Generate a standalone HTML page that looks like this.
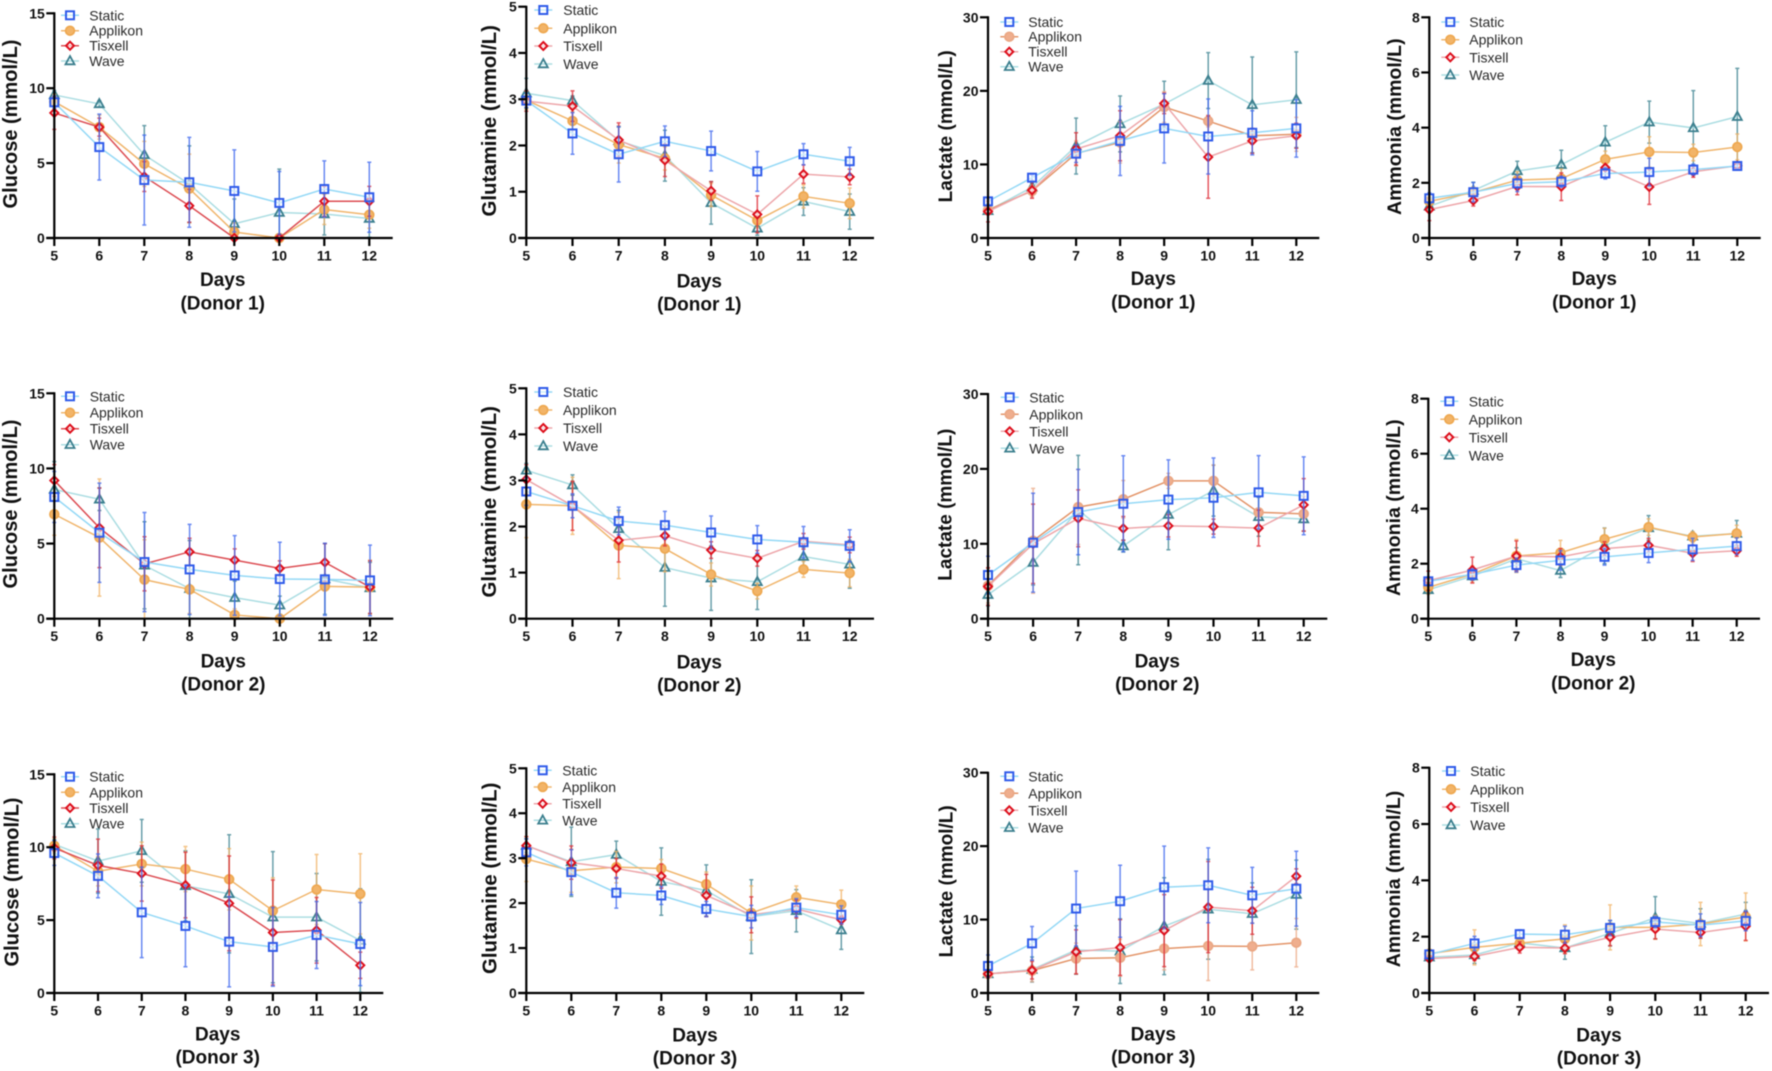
<!DOCTYPE html>
<html lang="en">
<head>
<meta charset="utf-8">
<title>Metabolite profiles by donor and bioreactor</title>
<style>
html,body{margin:0;padding:0;background:#fff;width:1772px;height:1071px;overflow:hidden}
svg{display:block;filter:blur(.45px)}
text{font-family:"Liberation Sans",Arial,sans-serif;fill:#111}
.yt{font-size:20px;font-weight:700;text-anchor:middle}
.xt{font-size:19px;font-weight:700;text-anchor:middle}
.lg{font-size:14px;fill:#2a2a2a}
.tick{font-size:14px;font-weight:700}
</style>
</head>
<body>
<svg id="figure" xmlns="http://www.w3.org/2000/svg" width="1772" height="1071" viewBox="0 0 1772 1071">
<g id="glucose-donor-1">
<text class="yt" transform="rotate(-90 17 124)" x="17" y="124">Glucose (mmol/L)</text>
<text class="xt" x="222.7" y="286">Days</text>
<text class="xt" x="222.7" y="309.3">(Donor 1)</text>
<text class="lg" x="89.3" y="20.3">Static</text>
<text class="lg" x="89.3" y="35.7">Applikon</text>
<text class="lg" x="89.3" y="50.7">Tisxell</text>
<text class="lg" x="89.3" y="66">Wave</text>
</g>
<g id="glutamine-donor-1">
<text class="yt" style="font-size:20.4px" transform="rotate(-90 496 120.8)" x="496" y="120.8">Glutamine (mmol/L)</text>
<text class="xt" x="699.3" y="287.3">Days</text>
<text class="xt" x="699.3" y="310.7">(Donor 1)</text>
<text class="lg" x="563.3" y="15">Static</text>
<text class="lg" x="563.3" y="33.3">Applikon</text>
<text class="lg" x="563.3" y="51">Tisxell</text>
<text class="lg" x="563.3" y="69">Wave</text>
</g>
<g id="lactate-donor-1">
<text class="yt" style="font-size:19px" transform="rotate(-90 952 126.3)" x="952" y="126.3">Lactate (mmol/L)</text>
<text class="xt" x="1153.3" y="285">Days</text>
<text class="xt" x="1153.3" y="308.3">(Donor 1)</text>
<text class="lg" x="1028.3" y="27">Static</text>
<text class="lg" x="1028.3" y="41.7">Applikon</text>
<text class="lg" x="1028.3" y="56.7">Tisxell</text>
<text class="lg" x="1028.3" y="71.7">Wave</text>
</g>
<g id="ammonia-donor-1">
<text class="yt" style="font-size:19.5px" transform="rotate(-90 1401 126.7)" x="1401" y="126.7">Ammonia (mmol/L)</text>
<text class="xt" x="1594.3" y="285">Days</text>
<text class="xt" x="1594.3" y="308.3">(Donor 1)</text>
<text class="lg" x="1469.3" y="27">Static</text>
<text class="lg" x="1469.3" y="44.7">Applikon</text>
<text class="lg" x="1469.3" y="62.3">Tisxell</text>
<text class="lg" x="1469.3" y="80">Wave</text>
</g>
<g id="glucose-donor-2">
<text class="yt" transform="rotate(-90 17 504)" x="17" y="504">Glucose (mmol/L)</text>
<text class="xt" x="223.3" y="667.3">Days</text>
<text class="xt" x="223.3" y="690.7">(Donor 2)</text>
<text class="lg" x="89.7" y="401.3">Static</text>
<text class="lg" x="89.7" y="417.7">Applikon</text>
<text class="lg" x="89.7" y="433.7">Tisxell</text>
<text class="lg" x="89.7" y="449.7">Wave</text>
</g>
<g id="glutamine-donor-2">
<text class="yt" style="font-size:20.4px" transform="rotate(-90 496 501.8)" x="496" y="501.8">Glutamine (mmol/L)</text>
<text class="xt" x="699.3" y="668.3">Days</text>
<text class="xt" x="699.3" y="691.7">(Donor 2)</text>
<text class="lg" x="563" y="397">Static</text>
<text class="lg" x="563" y="415">Applikon</text>
<text class="lg" x="563" y="433">Tisxell</text>
<text class="lg" x="563" y="451">Wave</text>
</g>
<g id="lactate-donor-2">
<text class="yt" style="font-size:19px" transform="rotate(-90 951.7 504.7)" x="951.7" y="504.7">Lactate (mmol/L)</text>
<text class="xt" x="1157.3" y="667.3">Days</text>
<text class="xt" x="1157.3" y="690.7">(Donor 2)</text>
<text class="lg" x="1029.3" y="402.3">Static</text>
<text class="lg" x="1029.3" y="419.3">Applikon</text>
<text class="lg" x="1029.3" y="436.3">Tisxell</text>
<text class="lg" x="1029.3" y="453.3">Wave</text>
</g>
<g id="ammonia-donor-2">
<text class="yt" style="font-size:19.5px" transform="rotate(-90 1400 507.7)" x="1400" y="507.7">Ammonia (mmol/L)</text>
<text class="xt" x="1593.3" y="666">Days</text>
<text class="xt" x="1593.3" y="689.3">(Donor 2)</text>
<text class="lg" x="1468.7" y="406.3">Static</text>
<text class="lg" x="1468.7" y="424.3">Applikon</text>
<text class="lg" x="1468.7" y="442.3">Tisxell</text>
<text class="lg" x="1468.7" y="460.3">Wave</text>
</g>
<g id="glucose-donor-3">
<text class="yt" transform="rotate(-90 18.3 882)" x="18.3" y="882">Glucose (mmol/L)</text>
<text class="xt" x="217.7" y="1040.3">Days</text>
<text class="xt" x="217.7" y="1063.7">(Donor 3)</text>
<text class="lg" x="89.3" y="781.7">Static</text>
<text class="lg" x="89.3" y="797.3">Applikon</text>
<text class="lg" x="89.3" y="813">Tisxell</text>
<text class="lg" x="89.3" y="828.7">Wave</text>
</g>
<g id="glutamine-donor-3">
<text class="yt" style="font-size:20.4px" transform="rotate(-90 496.7 878.3)" x="496.7" y="878.3">Glutamine (mmol/L)</text>
<text class="xt" x="695" y="1041.7">Days</text>
<text class="xt" x="695" y="1064.3">(Donor 3)</text>
<text class="lg" x="562.3" y="775.3">Static</text>
<text class="lg" x="562.3" y="792">Applikon</text>
<text class="lg" x="562.3" y="808.7">Tisxell</text>
<text class="lg" x="562.3" y="825.3">Wave</text>
</g>
<g id="lactate-donor-3">
<text class="yt" style="font-size:19px" transform="rotate(-90 952.3 881.3)" x="952.3" y="881.3">Lactate (mmol/L)</text>
<text class="xt" x="1153.3" y="1040.3">Days</text>
<text class="xt" x="1153.3" y="1063.7">(Donor 3)</text>
<text class="lg" x="1028.3" y="781.3">Static</text>
<text class="lg" x="1028.3" y="798.3">Applikon</text>
<text class="lg" x="1028.3" y="815.3">Tisxell</text>
<text class="lg" x="1028.3" y="832.7">Wave</text>
</g>
<g id="ammonia-donor-3">
<text class="yt" style="font-size:19.5px" transform="rotate(-90 1400 879)" x="1400" y="879">Ammonia (mmol/L)</text>
<text class="xt" x="1599" y="1041.7">Days</text>
<text class="xt" x="1599" y="1064.3">(Donor 3)</text>
<text class="lg" x="1470.3" y="776">Static</text>
<text class="lg" x="1470.3" y="794.3">Applikon</text>
<text class="lg" x="1470.3" y="812">Tisxell</text>
<text class="lg" x="1470.3" y="830">Wave</text>
</g>
</svg>
<script>
const days = [5, 6, 7, 8, 9, 10, 11, 12];
const glucoseTicks = [0, 5, 10, 15];
const glutamineTicks = [0, 1, 2, 3, 4, 5];
const lactateTicks = [0, 10, 20, 30];
const ammoniaTicks = [0, 2, 4, 6, 8];

const gluD1Static = [9.06, 6.07, 3.87, 3.72, 3.14, 2.34, 3.27, 2.72];
const gluD1StaticErr = [0.4, 2.2, 3.0, 3.0, 2.74, 2.1, 1.88, 2.34];
const gluD1Applikon = [9.1, 7.4, 4.95, 3.3, 0.4, 0, 1.9, 1.55];
const gluD1ApplikonErr = [0.5, 0.8, 1.5, 2.3, 0.6, 0.2, 1.0, 0.9];
const gluD1Tisxell = [8.35, 7.4, 4.1, 2.15, 0, 0, 2.45, 2.45];
const gluD1TisxellErr = [1.1, 0.6, 1.0, 1.1, 0, 0.1, 1.0, 1.0];
const gluD1Wave = [9.55, 8.95, 5.55, 3.6, 0.95, 1.7, 1.6, 1.3];
const gluD1WaveErr = [0.3, 0.2, 1.95, 2.55, 1.65, 2.9, 1.4, 1.25];

const glnD1Static = [2.97, 2.26, 1.81, 2.09, 1.88, 1.44, 1.81, 1.66];
const glnD1StaticErr = [0.15, 0.45, 0.6, 0.33, 0.43, 0.43, 0.23, 0.3];
const glnD1Applikon = [2.98, 2.53, 2.02, 1.72, 0.93, 0.38, 0.9, 0.75];
const glnD1ApplikonErr = [0.2, 0.2, 0.4, 0.25, 0.25, 0.15, 0.25, 0.33];
const glnD1Tisxell = [2.96, 2.85, 2.12, 1.68, 1.02, 0.51, 1.38, 1.32];
const glnD1TisxellErr = [0.22, 0.33, 0.37, 0.35, 0.2, 0.4, 0.2, 0.17];
const glnD1Wave = [3.13, 2.97, 2.1, 1.78, 0.76, 0.21, 0.79, 0.57];
const glnD1WaveErr = [0.32, 0.1, 0.3, 0.55, 0.46, 0.15, 0.3, 0.38];

const lacD1Static = [4.98, 8.2, 11.46, 13.2, 14.9, 13.8, 14.3, 14.9];
const lacD1StaticErr = [0.3, 0.4, 1.2, 4.7, 4.7, 5.1, 3.0, 3.9];
const lacD1Applikon = [3.8, 6.4, 11.5, 13, 17.8, 15.9, 13.9, 14.1];
const lacD1ApplikonErr = [0.5, 0.8, 1.7, 2.8, 2.1, 0.8, 0.6, 2.3];
const lacD1Tisxell = [3.6, 6.5, 12.1, 13.9, 18.3, 11, 13.2, 13.9];
const lacD1TisxellErr = [1.4, 1.1, 2.2, 3.4, 1.4, 5.6, 1.7, 1.7];
const lacD1Wave = [3.7, 6.9, 12.5, 15.5, 18.2, 21.4, 18.1, 18.8];
const lacD1WaveErr = [0.5, 0.5, 3.8, 3.8, 3.1, 3.8, 6.5, 6.5];

const ammD1Static = [1.44, 1.66, 1.98, 2.04, 2.34, 2.39, 2.48, 2.61];
const ammD1StaticErr = [0.2, 0.35, 0.3, 0.2, 0.2, 0.5, 0.2, 0.1];
const ammD1Applikon = [1.33, 1.65, 2.1, 2.15, 2.85, 3.12, 3.1, 3.3];
const ammD1ApplikonErr = [0.15, 0.2, 0.3, 0.35, 0.3, 0.55, 0.3, 0.47];
const ammD1Tisxell = [1.03, 1.36, 1.87, 1.86, 2.55, 1.85, 2.4, 2.62];
const ammD1TisxellErr = [0.4, 0.2, 0.3, 0.5, 0.1, 0.63, 0.2, 0.1];
const ammD1Wave = [1.15, 1.72, 2.43, 2.66, 3.47, 4.2, 3.99, 4.4];
const ammD1WaveErr = [0.1, 0.3, 0.35, 0.52, 0.6, 0.76, 1.35, 1.75];

const gluD2Static = [8.1, 5.72, 3.77, 3.28, 2.88, 2.64, 2.62, 2.55];
const gluD2StaticErr = [1.7, 3.3, 3.3, 3.0, 2.65, 2.45, 2.4, 2.35];
const gluD2Applikon = [6.95, 5.4, 2.6, 1.95, 0.25, 0, 2.15, 2.1];
const gluD2ApplikonErr = [1.4, 3.9, 2.65, 1.6, 0.4, 0.1, 0.3, 1.8];
const gluD2Tisxell = [9.2, 6.05, 3.65, 4.45, 3.9, 3.35, 3.75, 2.1];
const gluD2TisxellErr = [1.05, 2.65, 1.8, 0.9, 0.75, 0.5, 1.25, 1.75];
const gluD2Wave = [8.6, 7.95, 3.55, 2.0, 1.4, 0.9, 2.65, 2.05];
const gluD2WaveErr = [1.85, 0.75, 2.9, 3.2, 1.1, 0.6, 2.35, 1.7];

const glnD2Static = [2.76, 2.45, 2.12, 2.03, 1.87, 1.72, 1.66, 1.58];
const glnD2StaticErr = [0.3, 0.26, 0.3, 0.3, 0.36, 0.3, 0.34, 0.35];
const glnD2Applikon = [2.48, 2.45, 1.59, 1.52, 0.96, 0.6, 1.07, 0.99];
const glnD2ApplikonErr = [0.72, 0.62, 0.72, 0.5, 0.25, 0.17, 0.17, 0.3];
const glnD2Tisxell = [3.02, 2.45, 1.7, 1.8, 1.49, 1.31, 1.68, 1.6];
const glnD2TisxellErr = [0.32, 0.53, 0.47, 0.22, 0.18, 0.17, 0.17, 0.17];
const glnD2Wave = [3.22, 2.9, 1.95, 1.11, 0.88, 0.8, 1.35, 1.18];
const glnD2WaveErr = [0.15, 0.22, 0.4, 0.84, 0.7, 0.6, 0.2, 0.52];

const lacD2Static = [5.83, 10.15, 14.24, 15.35, 15.9, 16.15, 16.87, 16.4];
const lacD2StaticErr = [2.5, 6.6, 5.7, 6.4, 5.3, 5.3, 4.9, 5.2];
const lacD2Applikon = [4.4, 10.4, 14.9, 15.95, 18.4, 18.4, 14.2, 14.0];
const lacD2ApplikonErr = [2.3, 7.0, 5.0, 2.5, 1.0, 2.1, 0.5, 2.3];
const lacD2Tisxell = [4.3, 10.0, 13.4, 12.05, 12.4, 12.3, 12.1, 15.2];
const lacD2TisxellErr = [2.5, 5.3, 3.8, 1.6, 1.5, 1.0, 2.4, 3.5];
const lacD2Wave = [3.2, 7.5, 14.5, 9.7, 13.9, 17.1, 13.6, 13.3];
const lacD2WaveErr = [1.5, 3.0, 7.3, 0.8, 4.7, 3.4, 2.6, 1.6];

const ammD2Static = [1.36, 1.61, 1.95, 2.12, 2.25, 2.39, 2.52, 2.64];
const ammD2StaticErr = [0.15, 0.2, 0.25, 0.35, 0.3, 0.35, 0.4, 0.3];
const ammD2Applikon = [1.14, 1.62, 2.28, 2.4, 2.89, 3.33, 2.97, 3.1];
const ammD2ApplikonErr = [0.25, 0.3, 0.6, 0.45, 0.4, 0.3, 0.2, 0.3];
const ammD2Tisxell = [1.38, 1.77, 2.28, 2.25, 2.55, 2.67, 2.38, 2.47];
const ammD2TisxellErr = [0.35, 0.47, 0.55, 0.3, 0.25, 0.25, 0.3, 0.2];
const ammD2Wave = [1.05, 1.55, 2.18, 1.75, 2.65, 3.3, 3.0, 3.1];
const ammD2WaveErr = [0.15, 0.15, 0.4, 0.25, 0.65, 0.45, 0.15, 0.47];

const gluD3Static = [9.6, 8.03, 5.53, 4.6, 3.52, 3.16, 3.98, 3.36];
const gluD3StaticErr = [0.85, 1.5, 3.1, 2.8, 3.1, 2.7, 2.3, 2.85];
const gluD3Applikon = [10.1, 8.35, 8.85, 8.5, 7.8, 5.65, 7.1, 6.8];
const gluD3ApplikonErr = [0.5, 1.0, 1.5, 1.55, 2.1, 2.25, 2.4, 2.75];
const gluD3Tisxell = [9.95, 8.75, 8.2, 7.4, 6.15, 4.15, 4.3, 1.9];
const gluD3TisxellErr = [0.75, 1.8, 1.9, 2.25, 3.25, 3.6, 2.25, 0.9];
const gluD3Wave = [10.2, 9.05, 9.75, 7.35, 6.8, 5.2, 5.2, 3.6];
const gluD3WaveErr = [0.3, 2.2, 2.15, 2.4, 4.05, 4.5, 3.0, 3.55];

const glnD3Static = [3.13, 2.69, 2.23, 2.17, 1.87, 1.7, 1.9, 1.74];
const glnD3StaticErr = [0.3, 0.5, 0.34, 0.2, 0.17, 0.25, 0.2, 0.2];
const glnD3Applikon = [2.98, 2.72, 2.8, 2.77, 2.42, 1.78, 2.13, 1.97];
const glnD3ApplikonErr = [0.5, 0.48, 0.35, 0.2, 0.27, 0.6, 0.25, 0.32];
const glnD3Tisxell = [3.28, 2.9, 2.77, 2.6, 2.17, 1.74, 1.87, 1.63];
const glnD3TisxellErr = [0.2, 0.37, 0.22, 0.27, 0.47, 0.4, 0.2, 0.1];
const glnD3Wave = [3.28, 2.92, 3.08, 2.48, 2.28, 1.7, 1.83, 1.4];
const glnD3WaveErr = [0.15, 0.77, 0.3, 0.75, 0.57, 0.82, 0.47, 0.43];

const lacD3Static = [3.68, 6.76, 11.5, 12.5, 14.4, 14.67, 13.3, 14.2];
const lacD3StaticErr = [1.5, 2.3, 5.1, 4.9, 5.6, 5.1, 3.8, 5.1];
const lacD3Applikon = [2.6, 3.05, 4.7, 4.8, 6.05, 6.4, 6.35, 6.85];
const lacD3ApplikonErr = [0.3, 1.5, 2.1, 2.5, 2.9, 4.7, 3.2, 3.3];
const lacD3Tisxell = [2.6, 3.1, 5.6, 6.2, 8.5, 11.7, 11.2, 15.9];
const lacD3TisxellErr = [0.5, 1.2, 3.0, 3.8, 4.9, 6.2, 3.2, 1.0];
const lacD3Wave = [2.6, 3.2, 5.85, 5.7, 9.1, 11.4, 10.8, 13.4];
const lacD3WaveErr = [0.3, 1.7, 3.3, 4.4, 6.6, 6.8, 4.2, 4.7];

const ammD3Static = [1.37, 1.76, 2.09, 2.07, 2.31, 2.52, 2.41, 2.56];
const ammD3StaticErr = [0.15, 0.25, 0.15, 0.3, 0.27, 0.2, 0.4, 0.35];
const ammD3Applikon = [1.4, 1.62, 1.77, 1.92, 2.33, 2.33, 2.45, 2.7];
const ammD3ApplikonErr = [0.1, 0.62, 0.2, 0.5, 0.8, 0.42, 0.77, 0.85];
const ammD3Tisxell = [1.22, 1.3, 1.62, 1.6, 1.98, 2.27, 2.15, 2.37];
const ammD3TisxellErr = [0.1, 0.15, 0.2, 0.2, 0.3, 0.35, 0.2, 0.5];
const ammD3Wave = [1.27, 1.35, 1.78, 1.6, 2.12, 2.67, 2.47, 2.8];
const ammD3WaveErr = [0.1, 0.3, 0.15, 0.4, 0.45, 0.75, 0.52, 0.42];

/* Panel layout and data wiring */
const panels = [
  {id:'glucose-donor-1', ticks:glucoseTicks, x5:54.3, x12:369.3, xEnd:392.7, y0:238, yTop:13.3, lx:70, ly:[15.3,30.7,45.7,61], kind:'glucose',
   st:[gluD1Static,gluD1StaticErr], ap:[gluD1Applikon,gluD1ApplikonErr], ti:[gluD1Tisxell,gluD1TisxellErr], wa:[gluD1Wave,gluD1WaveErr]},
  {id:'glutamine-donor-1', ticks:glutamineTicks, x5:526.3, x12:849.7, xEnd:874, y0:238, yTop:6.7, lx:543.3, ly:[10,28.3,46,64], kind:'glutamine',
   st:[glnD1Static,glnD1StaticErr], ap:[glnD1Applikon,glnD1ApplikonErr], ti:[glnD1Tisxell,glnD1TisxellErr], wa:[glnD1Wave,glnD1WaveErr]},
  {id:'lactate-donor-1', ticks:lactateTicks, x5:988, x12:1296.3, xEnd:1319.3, y0:238, yTop:17.3, lx:1009.3, ly:[22,36.7,51.7,66.7], kind:'lactate',
   st:[lacD1Static,lacD1StaticErr], ap:[lacD1Applikon,lacD1ApplikonErr], ti:[lacD1Tisxell,lacD1TisxellErr], wa:[lacD1Wave,lacD1WaveErr]},
  {id:'ammonia-donor-1', ticks:ammoniaTicks, x5:1429.3, x12:1737.3, xEnd:1760.7, y0:238, yTop:17.3, lx:1450.3, ly:[22,39.7,57.3,75], kind:'ammonia',
   st:[ammD1Static,ammD1StaticErr], ap:[ammD1Applikon,ammD1ApplikonErr], ti:[ammD1Tisxell,ammD1TisxellErr], wa:[ammD1Wave,ammD1WaveErr]},
  {id:'glucose-donor-2', ticks:glucoseTicks, x5:54.3, x12:370, xEnd:393.3, y0:618.7, yTop:393.3, lx:70, ly:[396.3,412.7,428.7,444.7], kind:'glucose',
   st:[gluD2Static,gluD2StaticErr], ap:[gluD2Applikon,gluD2ApplikonErr], ti:[gluD2Tisxell,gluD2TisxellErr], wa:[gluD2Wave,gluD2WaveErr]},
  {id:'glutamine-donor-2', ticks:glutamineTicks, x5:526.3, x12:849.7, xEnd:874, y0:618.7, yTop:388.3, lx:543.3, ly:[392,410,428,446], kind:'glutamine',
   st:[glnD2Static,glnD2StaticErr], ap:[glnD2Applikon,glnD2ApplikonErr], ti:[glnD2Tisxell,glnD2TisxellErr], wa:[glnD2Wave,glnD2WaveErr]},
  {id:'lactate-donor-2', ticks:lactateTicks, x5:988, x12:1303.7, xEnd:1327.3, y0:618.7, yTop:394, lx:1009.7, ly:[397.3,414.3,431.3,448.3], kind:'lactate',
   st:[lacD2Static,lacD2StaticErr], ap:[lacD2Applikon,lacD2ApplikonErr], ti:[lacD2Tisxell,lacD2TisxellErr], wa:[lacD2Wave,lacD2WaveErr]},
  {id:'ammonia-donor-2', ticks:ammoniaTicks, x5:1428.3, x12:1736.7, xEnd:1760, y0:618.7, yTop:398.7, lx:1449.3, ly:[401.3,419.3,437.3,455.3], kind:'ammonia',
   st:[ammD2Static,ammD2StaticErr], ap:[ammD2Applikon,ammD2ApplikonErr], ti:[ammD2Tisxell,ammD2TisxellErr], wa:[ammD2Wave,ammD2WaveErr]},
  {id:'glucose-donor-3', ticks:glucoseTicks, x5:54.3, x12:360.3, xEnd:383.3, y0:993, yTop:774.3, lx:70, ly:[776.7,792.3,808,823.7], kind:'glucose',
   st:[gluD3Static,gluD3StaticErr], ap:[gluD3Applikon,gluD3ApplikonErr], ti:[gluD3Tisxell,gluD3TisxellErr], wa:[gluD3Wave,gluD3WaveErr]},
  {id:'glutamine-donor-3', ticks:glutamineTicks, x5:526.3, x12:841.3, xEnd:864.3, y0:993, yTop:768.3, lx:542.7, ly:[770.3,787,803.7,820.3], kind:'glutamine',
   st:[glnD3Static,glnD3StaticErr], ap:[glnD3Applikon,glnD3ApplikonErr], ti:[glnD3Tisxell,glnD3TisxellErr], wa:[glnD3Wave,glnD3WaveErr]},
  {id:'lactate-donor-3', ticks:lactateTicks, x5:988, x12:1296.3, xEnd:1319.3, y0:993, yTop:772.7, lx:1009.3, ly:[776.3,793.3,810.3,827.7], kind:'lactate',
   st:[lacD3Static,lacD3StaticErr], ap:[lacD3Applikon,lacD3ApplikonErr], ti:[lacD3Tisxell,lacD3TisxellErr], wa:[lacD3Wave,lacD3WaveErr]},
  {id:'ammonia-donor-3', ticks:ammoniaTicks, x5:1429.3, x12:1745.7, xEnd:1769, y0:993, yTop:767.7, lx:1451, ly:[771,789.3,807,825], kind:'ammonia',
   st:[ammD3Static,ammD3StaticErr], ap:[ammD3Applikon,ammD3ApplikonErr], ti:[ammD3Tisxell,ammD3TisxellErr], wa:[ammD3Wave,ammD3WaveErr]}
];

const NS = 'http://www.w3.org/2000/svg';

function make(parent, tag, name, attrs) {
  const el = document.createElementNS(NS, tag);
  
  
  for (const k in attrs) el.setAttribute(k, attrs[k]);
  parent.appendChild(el);
  return el;
}

function drawMarker(g, shape, cx, cy, c, name) {
  if (shape === 'square') {
    make(g, 'rect', name, {x:cx-4, y:cy-4, width:8, height:8, fill:'rgba(255,255,255,.55)', stroke:c.mark, 'stroke-width':2});
  } else if (shape === 'circle') {
    make(g, 'circle', name, {cx:cx, cy:cy, r:4.4, fill:c.fill, stroke:c.mark, 'stroke-width':1.7});
  } else if (shape === 'diamond') {
    make(g, 'path', name, {d:`M${cx} ${cy-4}L${cx+4} ${cy}L${cx} ${cy+4}L${cx-4} ${cy}Z`, fill:'rgba(255,255,255,.6)', stroke:c.mark, 'stroke-width':2});
  } else {
    make(g, 'path', name, {d:`M${cx} ${cy-4.9}L${cx+4.5} ${cy+3.3}L${cx-4.5} ${cy+3.3}Z`, fill:'none', stroke:c.mark, 'stroke-width':1.8, 'stroke-linejoin':'miter'});
  }
}

function colours(kind, key) {
  if (key === 'st') return {line:'#93d8f6', mark:'#2f5bea', err:'#3f68ee', shape:'square', label:'static'};
  if (key === 'ap') {
    if (kind === 'lactate') return {line:'#e39468', mark:'#eaa784', fill:'#efae8e', err:'#ecaa88', shape:'circle', label:'applikon'};
    return {line:'#f0b56c', mark:'#eea850', fill:'#f2b468', err:'#f1b366', shape:'circle', label:'applikon'};
  }
  if (key === 'ti') return {line: kind === 'glucose' ? '#dc4c52' : '#eda6aa', mark:'#dd0f1c', err:'#de2a34', shape:'diamond', label:'tisxell'};
  return {line:'#abdde2', mark:'#3b7f8e', err:'#3f8492', shape:'triangle', label:'wave'};
}

panels.forEach(function (p) {
  const root = document.getElementById(p.id);
  const yMax = p.ticks[p.ticks.length - 1];
  const xScale = function (d) { return p.x5 + (d - days[0]) / (days[days.length - 1] - days[0]) * (p.x12 - p.x5); };
  const yScale = function (v) { return p.y0 - v / yMax * (p.y0 - p.yTop); };

  /* series: back to front */
  ['wa', 'ap', 'ti', 'st'].forEach(function (key) {
    const c = colours(p.kind, key);
    const means = p[key][0];
    const errs = p[key][1];
    const g = make(root, 'g', 'series-' + c.label, {});
    means.forEach(function (m, i) {
      const x = xScale(days[i]);
      const hi = yScale(m + errs[i]);
      const lo = yScale(Math.max(0, m - errs[i]));
      make(g, 'path', 'error-bar-' + c.label, {d:`M${x} ${hi}V${lo}M${x-2} ${hi}H${x+2}M${x-2} ${lo}H${x+2}`, fill:'none', stroke:c.err, 'stroke-width':1.5, 'stroke-opacity':.78});
    });
    const pts = means.map(function (m, i) { return xScale(days[i]) + ',' + yScale(m); }).join(' ');
    make(g, 'polyline', 'line-' + c.label, {points:pts, fill:'none', stroke:c.line, 'stroke-width':1.5});
    means.forEach(function (m, i) {
      drawMarker(g, c.shape, xScale(days[i]), yScale(m), c, 'point-' + c.label);
    });
  });

  /* legend keys */
  ['st', 'ap', 'ti', 'wa'].forEach(function (key, i) {
    const c = colours(p.kind, key);
    const ly = p.ly[i];
    const g = make(root, 'g', 'legend-key-' + c.label, {});
    make(g, 'line', 'legend-line', {x1:p.lx-9, x2:p.lx+9, y1:ly, y2:ly, stroke:c.line, 'stroke-width':1.5});
    drawMarker(g, c.shape, p.lx, ly, c, 'legend-marker');
  });

  /* axes */
  const ax = make(root, 'g', 'axes', {});
  make(ax, 'line', 'y-axis', {x1:p.x5, x2:p.x5, y1:p.yTop-1, y2:p.y0+1, stroke:'#000', 'stroke-width':2.2});
  make(ax, 'line', 'x-axis', {x1:p.x5-8, x2:p.xEnd, y1:p.y0, y2:p.y0, stroke:'#000', 'stroke-width':2.2});
  p.ticks.forEach(function (t) {
    const y = yScale(t);
    make(ax, 'line', 'y-tick', {x1:p.x5-8, x2:p.x5, y1:y, y2:y, stroke:'#000', 'stroke-width':2.2});
    const lab = make(ax, 'text', 'y-tick-label', {class:'tick', x:p.x5-9.5, y:y+5, 'text-anchor':'end'});
    lab.textContent = String(t);
  });
  days.forEach(function (d) {
    const x = xScale(d);
    make(ax, 'line', 'x-tick', {x1:x, x2:x, y1:p.y0, y2:p.y0+8, stroke:'#000', 'stroke-width':2.2});
    const lab = make(ax, 'text', 'x-tick-label', {class:'tick', x:x, y:p.y0+22.5, 'text-anchor':'middle'});
    lab.textContent = String(d);
  });
});
</script>
</body>
</html>
